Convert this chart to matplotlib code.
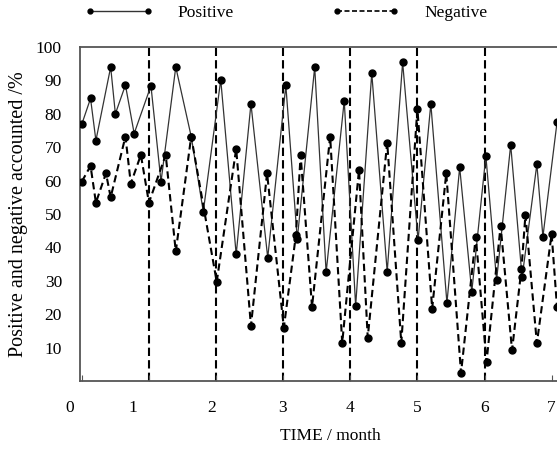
import matplotlib
matplotlib.use("Agg")
import matplotlib.pyplot as plt
from matplotlib.lines import Line2D
from matplotlib.transforms import ScaledTranslation

# Positive series (solid line): time in months, share in %
pos_t = [0.00, 0.13, 0.21, 0.43, 0.50, 0.65, 0.78, 1.03, 1.18, 1.40,
         1.63, 1.81, 2.07, 2.30, 2.52, 2.77, 3.04, 3.21, 3.47, 3.64,
         3.91, 4.08, 4.32, 4.55, 4.78, 5.01, 5.20, 5.44, 5.63, 5.81,
         6.02, 6.18, 6.39, 6.56, 6.78, 6.87, 7.08]
pos_v = [76.9, 84.6, 72.0, 94.0, 80.0, 88.6, 74.1, 88.4, 59.7, 94.0,
         73.2, 50.7, 90.2, 37.9, 83.0, 36.9, 88.5, 42.5, 94.0, 32.5,
         83.9, 22.5, 92.2, 32.7, 95.4, 42.2, 83.0, 23.4, 64.0, 26.7,
         67.4, 30.2, 70.7, 31.0, 64.9, 43.2, 77.4]

# Negative series (dashed line)
neg_t = [0.00, 0.13, 0.21, 0.36, 0.43, 0.65, 0.73, 0.88, 1.00, 1.25,
         1.40, 1.63, 2.01, 2.30, 2.52, 2.76, 3.01, 3.19, 3.26, 3.43,
         3.70, 3.88, 4.13, 4.26, 4.55, 4.76, 5.00, 5.22, 5.43, 5.65,
         5.87, 6.03, 6.24, 6.41, 6.55, 6.61, 6.78, 7.00, 7.08]
neg_v = [59.7, 64.4, 53.4, 62.2, 55.0, 73.2, 59.1, 67.7, 53.4, 67.7,
         38.8, 73.2, 29.7, 69.5, 16.5, 62.2, 16.0, 43.7, 67.7, 22.2,
         73.2, 11.4, 63.2, 13.0, 71.4, 11.4, 81.5, 21.7, 62.2, 2.4,
         43.2, 5.7, 46.5, 9.2, 33.5, 49.8, 11.3, 44.0, 22.2]

# month boundaries marked with dashed vertical lines
bounds = [1, 2, 3, 4, 5, 6]
x_ticks = [0, 1, 2, 3, 4, 5, 6, 7]
y_ticks = [10, 20, 30, 40, 50, 60, 70, 80, 90, 100]

serif = "Liberation Serif"
tick_font = dict(family=serif, size=12.5)

fig = plt.figure(figsize=(5.57, 4.54), dpi=100)
ax = fig.add_axes([80 / 557, 1 - 381 / 454, 477 / 557, 334 / 454])

for b in bounds:
    ax.axvline(b, color="black", lw=1.5, ls=(0, (4, 2)), zorder=1)

ax.plot(pos_t, pos_v, color="#333333", lw=0.9, marker="o", ms=5,
        mfc="black", mec="black", zorder=3)
ax.plot(neg_t, neg_v, color="black", lw=1.5, ls=(0, (3.5, 2)), marker="o",
        ms=5, mfc="black", mec="black", zorder=3)

ax.set_xlim(-0.027, 7.08)
ax.set_ylim(0, 100)

for s in ["left", "bottom", "top"]:
    ax.spines[s].set_color("#555555")
    ax.spines[s].set_linewidth(1.3)
ax.spines["right"].set_visible(False)

ax.set_xticks(x_ticks)
ax.set_xticklabels([str(t) for t in x_ticks], fontdict=tick_font)
ax.tick_params(axis="x", direction="in", length=4, pad=14, color="#555555")

ax.set_yticks(y_ticks)
ax.set_yticklabels([str(t) for t in y_ticks], fontdict=tick_font)
ax.tick_params(axis="y", which="major", length=0, pad=13)
ax.set_yticks([20, 40, 60, 80], minor=True)
ax.tick_params(axis="y", which="minor", direction="in", length=8.5,
               width=1.2, color="#333333")

# the first tick labels sit a little left of their ticks in the original
offs = [-12, -16, -4, -1, 0, 0, 0, 0]
for lab, dx in zip(ax.get_xticklabels(), offs):
    lab.set_transform(lab.get_transform() +
                      ScaledTranslation(dx / 100, 0, fig.dpi_scale_trans))

ax.set_xlabel("TIME / month", fontdict=tick_font)
ax.xaxis.set_label_coords(0.524, -0.14)
ax.set_ylabel("Positive and negative accounted /%", family=serif, size=14.5)
ax.yaxis.set_label_coords(-0.11, 0.5)

handles = [
    Line2D([], [], color="#333333", lw=1.0, marker="o", ms=3.5, mfc="black",
           mec="black"),
    Line2D([], [], color="black", lw=1.2, ls=(0, (3, 1.5)), marker="o",
           ms=3.5, mfc="black", mec="black"),
]
ax.legend(handles, ["Positive", "Negative"], ncol=2, frameon=False,
          numpoints=2, loc="center left", prop=dict(family=serif, size=12.5),
          bbox_to_anchor=(85 / 557, 1 - 13 / 454),
          bbox_transform=fig.transFigure, borderpad=0, borderaxespad=0,
          handlelength=3.9, handletextpad=1.45, columnspacing=5.6)

fig.savefig("out.png", dpi=100)
